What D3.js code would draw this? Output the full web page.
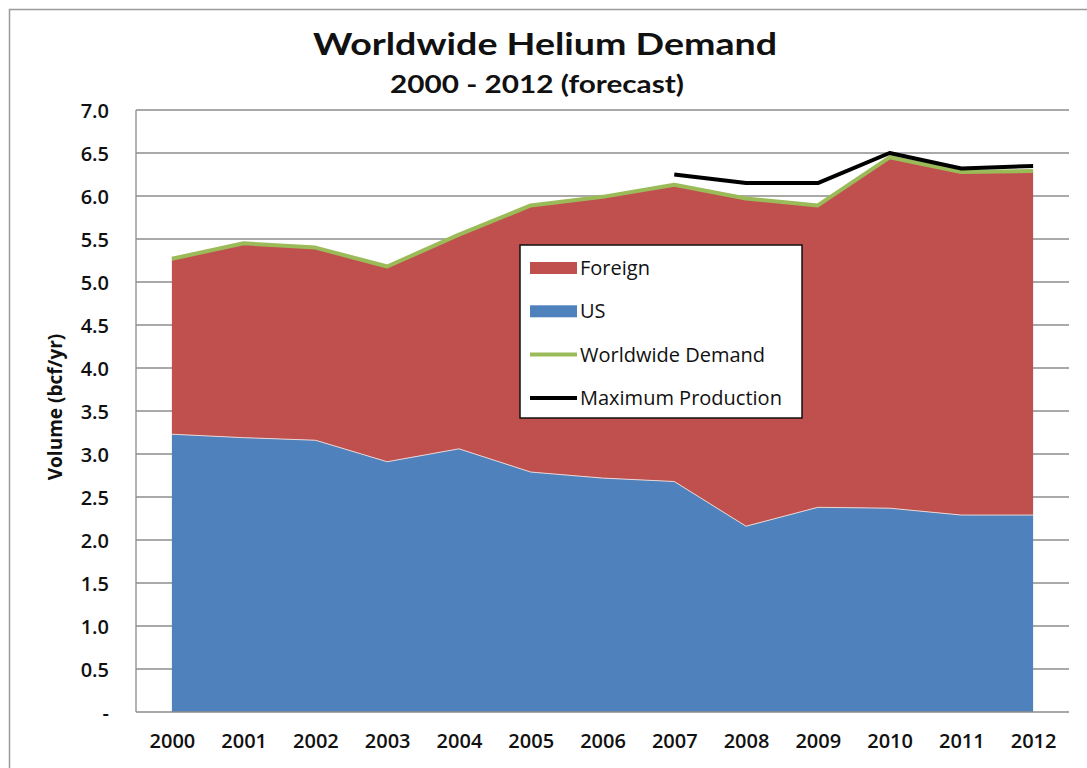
<!DOCTYPE html>
<html>
<head>
<meta charset="utf-8">
<script src="https://cdn.jsdelivr.net/npm/d3@7"></script>
<style>
  html, body { margin: 0; padding: 0; background: #fff; }
  svg { display: block; font-family: "Open Sans", Lato, sans-serif; }
</style>
</head>
<body>
<svg id="chart" width="1087" height="768"></svg>
<script>
// Helium demand, billion cubic feet per year
const years = ["2000","2001","2002","2003","2004","2005","2006","2007","2008","2009","2010","2011","2012"];
const usDemand = [3.23, 3.19, 3.16, 2.91, 3.06, 2.79, 2.72, 2.68, 2.16, 2.38, 2.37, 2.29, 2.29];
const foreignDemand = [2.04, 2.26, 2.24, 2.27, 2.49, 3.10, 3.27, 3.45, 3.81, 3.51, 4.08, 3.99, 4.00];
const maxProduction = [null, null, null, null, null, null, null, 6.25, 6.15, 6.15, 6.50, 6.32, 6.35];
const yTicks = [0, 0.5, 1.0, 1.5, 2.0, 2.5, 3.0, 3.5, 4.0, 4.5, 5.0, 5.5, 6.0, 6.5, 7.0];

const colors = { foreign: "#C0504D", us: "#4F81BD", demand: "#9BBB59", production: "#000000" };

const svg = d3.select("#chart");
const plot = { left: 136, right: 1069, top: 110, bottom: 712 };

const x = d3.scalePoint().domain(years).range([plot.left, plot.right]).padding(0.5);
const y = d3.scaleLinear().domain([0, 7]).range([plot.bottom, plot.top]);

// outer chart frame
svg.append("rect")
  .attr("x", 9.5).attr("y", 9.5).attr("width", 1100).attr("height", 800)
  .attr("fill", "#fff").attr("stroke", "#9a9a9a").attr("stroke-width", 1.5);

// titles
svg.append("text").attr("x", 545).attr("y", 55).attr("text-anchor", "middle")
  .attr("font-family", "Lato, sans-serif")
  .attr("font-size", 30).attr("font-weight", 700).attr("fill", "#111")
  .attr("textLength", 464).attr("lengthAdjust", "spacingAndGlyphs")
  .text("Worldwide Helium Demand");
svg.append("text").attr("x", 537).attr("y", 93).attr("text-anchor", "middle")
  .attr("font-family", "Lato, sans-serif")
  .attr("font-size", 24).attr("font-weight", 700).attr("fill", "#111")
  .attr("textLength", 294).attr("lengthAdjust", "spacingAndGlyphs")
  .text("2000 - 2012 (forecast)");

// horizontal gridlines
svg.append("g").selectAll("line").data(yTicks.filter(d => d > 0)).join("line")
  .attr("x1", plot.left).attr("x2", plot.right)
  .attr("y1", d => y(d)).attr("y2", d => y(d))
  .attr("stroke", "#8c8c8c").attr("stroke-width", 1.3);

// stacked areas
const rows = years.map((yr, i) => ({ year: yr, us: usDemand[i], foreign: foreignDemand[i] }));
const stack = d3.stack().keys(["us", "foreign"]);
const layers = stack(rows);
const area = d3.area()
  .x(d => x(d.data.year))
  .y0(d => y(d[0]))
  .y1(d => y(d[1]));

svg.append("g").selectAll("path").data(layers).join("path")
  .attr("d", area)
  .attr("fill", d => colors[d.key]);

// faint seam between US and foreign areas
svg.append("path")
  .datum(rows)
  .attr("d", d3.line().x(d => x(d.year)).y(d => y(d.us)))
  .attr("fill", "none").attr("stroke", "#e6d6d6").attr("stroke-width", 1);

// worldwide demand line (top of the stack)
const demand = rows.map(d => ({ year: d.year, v: d.us + d.foreign }));
svg.append("path")
  .datum(demand)
  .attr("d", d3.line().x(d => x(d.year)).y(d => y(d.v)))
  .attr("fill", "none").attr("stroke", colors.demand).attr("stroke-width", 4)
  .attr("stroke-linejoin", "round");

// maximum production line
const prod = years.map((yr, i) => ({ year: yr, v: maxProduction[i] }));
svg.append("path")
  .datum(prod)
  .attr("d", d3.line().defined(d => d.v != null).x(d => x(d.year)).y(d => y(d.v)))
  .attr("fill", "none").attr("stroke", colors.production).attr("stroke-width", 4)
  .attr("stroke-linejoin", "round");

// axes lines
svg.append("line").attr("x1", plot.left).attr("x2", plot.left)
  .attr("y1", plot.top).attr("y2", plot.bottom)
  .attr("stroke", "#8c8c8c").attr("stroke-width", 1.3);
svg.append("line").attr("x1", plot.left).attr("x2", plot.right)
  .attr("y1", plot.bottom).attr("y2", plot.bottom)
  .attr("stroke", "#8c8c8c").attr("stroke-width", 1.3);

// y tick labels
const yAxis = d3.axisLeft(y).tickValues(yTicks).tickSize(0).tickPadding(0)
  .tickFormat(d => d === 0 ? "-" : d3.format(".1f")(d));
const gy = svg.append("g").attr("transform", `translate(${109},0)`).call(yAxis);
gy.select(".domain").remove();
gy.selectAll("text").attr("font-size", 20).attr("font-weight", 600)
  .attr("font-family", "'Open Sans', sans-serif").attr("fill", "#111").attr("dy", "0.35em");

// x tick labels
const xAxis = d3.axisBottom(x).tickSize(0).tickPadding(0);
const gx = svg.append("g").attr("transform", `translate(0,${734})`).call(xAxis);
gx.select(".domain").remove();
gx.selectAll("text").attr("font-size", 20).attr("font-weight", 600)
  .attr("font-family", "'Open Sans', sans-serif").attr("fill", "#111").attr("dy", "0.72em");

// y axis title
svg.append("text")
  .attr("transform", "translate(62,407) rotate(-90)")
  .attr("text-anchor", "middle").attr("font-size", 19).attr("font-weight", 700)
  .attr("fill", "#111").text("Volume (bcf/yr)");

// legend
const legend = svg.append("g");
legend.append("rect").attr("x", 520).attr("y", 245).attr("width", 282).attr("height", 173)
  .attr("fill", "#fff").attr("stroke", "#111").attr("stroke-width", 1.5);
const legendItems = [
  { label: "Foreign", key: "foreign", kind: "box" },
  { label: "US", key: "us", kind: "box" },
  { label: "Worldwide Demand", key: "demand", kind: "line" },
  { label: "Maximum Production", key: "production", kind: "line" }
];
legendItems.forEach((it, i) => {
  const cy = 268 + i * 43.3;
  if (it.kind === "box") {
    legend.append("rect").attr("x", 530).attr("y", cy - 6).attr("width", 47).attr("height", 12)
      .attr("fill", colors[it.key]);
  } else {
    legend.append("line").attr("x1", 530).attr("x2", 577).attr("y1", cy).attr("y2", cy)
      .attr("stroke", colors[it.key]).attr("stroke-width", 4);
  }
  legend.append("text").attr("x", 580).attr("y", cy).attr("dy", "0.35em")
    .attr("font-size", 20).attr("font-weight", 500).attr("fill", "#111").text(it.label);
});
</script>
</body>
</html>
